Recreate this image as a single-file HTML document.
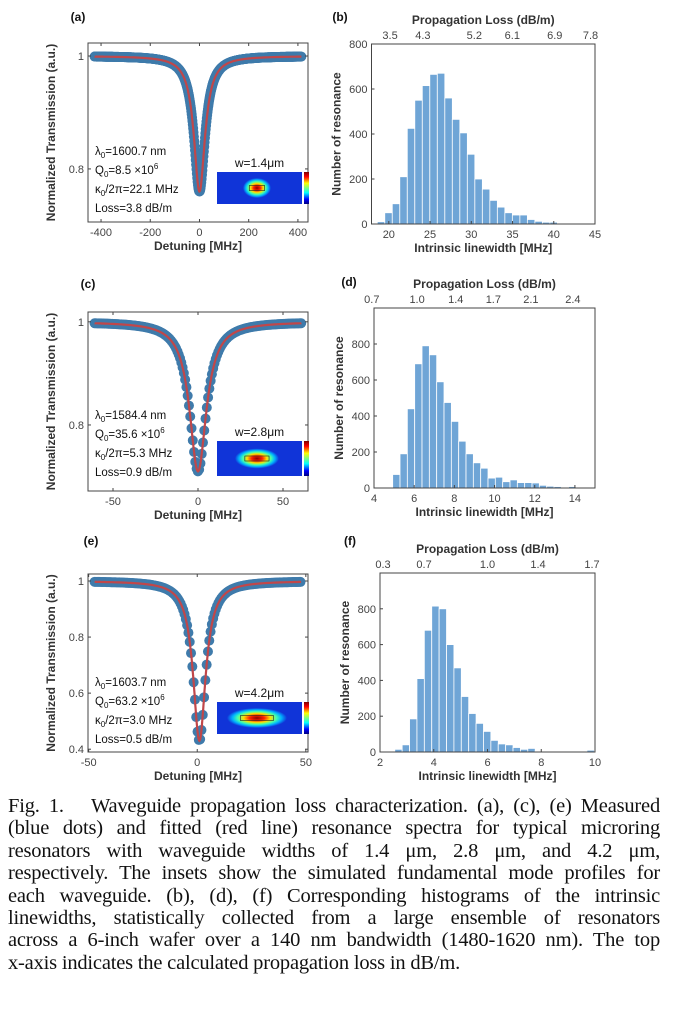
<!DOCTYPE html>
<html><head><meta charset="utf-8">
<style>
html,body{margin:0;padding:0;background:#fff;}
body{width:673px;height:1015px;overflow:hidden;position:relative;}
svg{position:absolute;left:0;top:0;}
#caption{position:absolute;left:8px;top:795px;width:652px;font-family:"Liberation Serif",serif;font-size:20.5px;line-height:22.4px;color:#111;letter-spacing:-0.2px;}
#caption div{text-align:justify;text-align-last:justify;white-space:nowrap;}
#caption div.last{text-align-last:left;}
</style></head>
<body>
<svg id="fig" width="673" height="795" xmlns="http://www.w3.org/2000/svg">
<defs>
<linearGradient id="jet" x1="0" y1="1" x2="0" y2="0">
<stop offset="0" stop-color="#00007f"/><stop offset="0.15" stop-color="#0000ff"/><stop offset="0.35" stop-color="#00ffff"/><stop offset="0.5" stop-color="#7fff7f"/><stop offset="0.65" stop-color="#ffff00"/><stop offset="0.85" stop-color="#ff0000"/><stop offset="1" stop-color="#7f0000"/>
</linearGradient>
<radialGradient id="mode">
<stop offset="0" stop-color="#8a0000"/><stop offset="0.25" stop-color="#ff2000"/><stop offset="0.45" stop-color="#ffe000"/><stop offset="0.65" stop-color="#40ffb0"/><stop offset="0.82" stop-color="#00b0ff"/><stop offset="1" stop-color="#1034d8"/>
</radialGradient>
</defs>
</svg>
<div id="caption">
<div>Fig. 1.&nbsp;&nbsp; Waveguide propagation loss characterization. (a), (c), (e) Measured</div>
<div>(blue dots) and fitted (red line) resonance spectra for typical microring</div>
<div>resonators with waveguide widths of 1.4 μm, 2.8 μm, and 4.2 μm,</div>
<div>respectively. The insets show the simulated fundamental mode profiles for</div>
<div>each waveguide. (b), (d), (f) Corresponding histograms of the intrinsic</div>
<div>linewidths, statistically collected from a large ensemble of resonators</div>
<div>across a 6-inch wafer over a 140 nm bandwidth (1480-1620 nm). The top</div>
<div class="last">x-axis indicates the calculated propagation loss in dB/m.</div>
</div>
<script>
// ---- Histogram data ----
const histB_counts = [10,50,90,210,425,550,615,665,670,560,465,405,310,200,155,105,75,50,40,40,20,12,8,8,3];
const histB_binStart = 18.6, histB_binWidth = 0.91;
const histB_xTicks = [20,25,30,35,40,45];
const histB_yTicks = [0,200,400,600,800];
const histB_topLabels = ["3.5","4.3","5.2","6.1","6.9","7.8"];
const histB_topFrac = [0.083,0.23,0.46,0.63,0.82,0.98];

const histD_counts = [75,190,440,690,790,740,590,475,370,260,190,140,110,55,60,35,45,30,30,28,15,10,8,5,8,5,5];
const histD_binStart = 4.93, histD_binWidth = 0.365;
const histD_xTicks = [4,6,8,10,12,14];
const histD_yTicks = [0,200,400,600,800];
const histD_topLabels = ["0.7","1.0","1.4","1.7","2.1","2.4"];
const histD_topFrac = [-0.01,0.195,0.37,0.54,0.71,0.9];

const histF_counts = [5,0,15,40,185,410,680,815,800,600,470,310,215,160,115,65,45,40,25,15,20,5,5,5,5,3,3,2,10];
const histF_binStart = 2.0, histF_binWidth = 0.275;
const histF_xTicks = [2,4,6,8,10];
const histF_yTicks = [0,200,400,600,800];
const histF_topLabels = ["0.3","0.7","1.0","1.4","1.7"];
const histF_topFrac = [0.014,0.205,0.5,0.735,0.986];

// ---- Resonance fit parameters (center MHz, depth, FWHM MHz) ----
const resA_fit = [0, 0.24, 55];
const resC_fit = [0, 0.29, 12];
const resE_fit = [1, 0.57, 7];
const resA_xTicks = [-400,-200,0,200,400];
const resA_yTicks = [0.8,1];
const resC_xTicks = [-50,0,50];
const resC_yTicks = [0.8,1];
const resE_xTicks = [-50,0,50];
const resE_yTicks = [0.4,0.6,0.8,1];

const NS="http://www.w3.org/2000/svg";
const svg=document.getElementById('fig');
function el(tag,attrs,parent,text){const e=document.createElementNS(NS,tag);for(const k in attrs)e.setAttribute(k,attrs[k]);if(text!==undefined)e.textContent=text;(parent||svg).appendChild(e);return e;}
const F='"Liberation Sans", Arial, sans-serif';

function label(x,y,t,size,bold,anchor,name,fill){
  const e=el('text',{x:x,y:y,'font-family':F,'font-size':size,'font-weight':bold?'bold':'normal','text-anchor':anchor||'middle',fill:fill||'#333'},svg,t);
  
  
  return e;
}

function hist(id,box,xlim,ylim,counts,b0,bw,xt,yt,topL,topF,letter,lx,ly){
  const g=el('g',{});
  
  
  const [x0,y0,x1,y1]=box;
  const sx=v=>x0+(v-xlim[0])/(xlim[1]-xlim[0])*(x1-x0);
  const sy=v=>y1-(v-ylim[0])/(ylim[1]-ylim[0])*(y1-y0);
  counts.forEach((c,i)=>{
    const a=sx(b0+i*bw), b=sx(b0+(i+1)*bw);
    const r=el('rect',{x:a,y:sy(c),width:Math.max(0,b-a),height:Math.max(0,y1-sy(c)),fill:'#6fa5d6',stroke:'#fff','stroke-width':0.8},g);
    
    
  });
  const fr=el('rect',{x:x0,y:y0,width:x1-x0,height:y1-y0,fill:'none',stroke:'#444','stroke-width':1},g);
  
  
  xt.forEach(v=>{const X=sx(v);el('line',{x1:X,y1:y1,x2:X,y2:y1-3,stroke:'#444'},g);
    label(X,y1+14,String(v),11,false,'middle','x-tick-'+id,'#444');});
  yt.forEach(v=>{const Y=sy(v);el('line',{x1:x0,y1:Y,x2:x0+3,y2:Y,stroke:'#444'},g);
    label(x0-4,Y+4,String(v),11,false,'end','y-tick-'+id,'#444');});
  topL.forEach((t,i)=>{const X=x0+topF[i]*(x1-x0);label(X,y0-5,t,11,false,'middle','top-tick-'+id,'#444');});
  label((x0+x1)/2,y1+28,'Intrinsic linewidth [MHz]',12,true,'middle','x-axis-title-'+id);
  label((x0+x1)/2,y0-20,'Propagation Loss (dB/m)',12,true,'middle','top-axis-title-'+id);
  const yl=label(0,0,'Number of resonance',12,true,'middle','y-axis-title-'+id);
  yl.setAttribute('transform','translate('+(x0-31)+','+((y0+y1)/2)+') rotate(-90)');
  label(lx,ly,'('+letter+')',12,true,'middle','panel-label-'+letter,'#111');
}

function res(id,box,xlim,ylim,fit,step,xt,yt,letter,lx,ly,ann,w,inset){
  const g=el('g',{});
  
  
  const [x0,y0,x1,y1]=box;
  const sx=v=>x0+(v-xlim[0])/(xlim[1]-xlim[0])*(x1-x0);
  const sy=v=>y1-(v-ylim[0])/(ylim[1]-ylim[0])*(y1-y0);
  const model=x=>1-fit[1]/(1+Math.pow(2*(x-fit[0])/fit[2],2));
  const xa=xlim[0]+(xlim[1]-xlim[0])*0.03, xb=xlim[1]-(xlim[1]-xlim[0])*0.03;
  for(let x=xa;x<=xb;x+=step){
    const c=el('circle',{cx:sx(x),cy:sy(model(x)),r:5,fill:'#3f7bab'},g);
    
    
  }
  let d='';
  for(let x=xa;x<=xb;x+=(xb-xa)/600){d+=(d?'L':'M')+sx(x).toFixed(1)+','+sy(model(x)).toFixed(1);}
  const p=el('path',{d:d,fill:'none',stroke:'#c0474a','stroke-width':2.2},g);
  
  
  const fr=el('rect',{x:x0,y:y0,width:x1-x0,height:y1-y0,fill:'none',stroke:'#444','stroke-width':1},g);
  
  
  xt.forEach(v=>{const X=sx(v);el('line',{x1:X,y1:y1,x2:X,y2:y1-3,stroke:'#444'},g);el('line',{x1:X,y1:y0,x2:X,y2:y0+3,stroke:'#444'},g);
    label(X,y1+14,String(v),11,false,'middle','x-tick-'+id,'#444');});
  yt.forEach(v=>{const Y=sy(v);el('line',{x1:x0,y1:Y,x2:x0+3,y2:Y,stroke:'#444'},g);el('line',{x1:x1,y1:Y,x2:x1-3,y2:Y,stroke:'#444'},g);
    label(x0-4,Y+4,String(v),11,false,'end','y-tick-'+id,'#444');});
  label((x0+x1)/2,y1+28,'Detuning [MHz]',12,true,'middle','x-axis-title-'+id);
  const yl=label(0,0,'Normalized Transmission (a.u.)',12,true,'middle','y-axis-title-'+id);
  yl.setAttribute('transform','translate('+(x0-33)+','+((y0+y1)/2)+') rotate(-90)');
  label(lx,ly,'('+letter+')',12,true,'middle','panel-label-'+letter,'#111');
  const t=el('text',{x:x0+7,y:ann[0],'font-family':F,'font-size':11.5,fill:'#111'},svg);
  
  
  t.innerHTML='<tspan>λ</tspan><tspan dy="3" font-size="8">0</tspan><tspan dy="-3">='+ann[1]+'</tspan>'+
   '<tspan x="'+(x0+7)+'" dy="19">Q</tspan><tspan dy="3" font-size="8">0</tspan><tspan dy="-3">='+ann[2]+' ×10</tspan><tspan dy="-5" font-size="8">6</tspan>'+
   '<tspan x="'+(x0+7)+'" dy="24">κ</tspan><tspan dy="3" font-size="8">0</tspan><tspan dy="-3">/2π='+ann[3]+'</tspan>'+
   '<tspan x="'+(x0+7)+'" dy="19">'+ann[4]+'</tspan>';
  const ig=el('g',{});
  
  
  const [ix,iy,iw,ih]=inset;
  el('rect',{x:ix,y:iy,width:iw,height:ih,fill:'#1034d8'},ig);
  el('ellipse',{cx:ix+iw*0.47,cy:iy+ih/2,rx:w,ry:10,fill:'url(#mode)'},ig);
  el('rect',{x:ix+iw*0.47-w*0.55,y:iy+ih/2-2.5,width:w*1.1,height:5,fill:'none',stroke:'#222','stroke-width':0.6},ig);
  el('rect',{x:ix+iw+2,y:iy,width:5,height:ih,fill:'url(#jet)'},ig);
  label(ix+iw/2,iy-5,'w='+ann[5],12,false,'middle','inset-title-'+id,'#111');
}

hist('b',[371.5,44,595,224],[17.9,45],[0,800],histB_counts,histB_binStart,histB_binWidth,histB_xTicks,histB_yTicks,histB_topLabels,histB_topFrac,'b',340,21);
hist('d',[374,308,595,488],[4,15],[0,1000],histD_counts,histD_binStart,histD_binWidth,histD_xTicks,histD_yTicks,histD_topLabels,histD_topFrac,'d',349,286);
hist('f',[380,573,595,752],[2,10],[0,1000],histF_counts,histF_binStart,histF_binWidth,histF_xTicks,histF_yTicks,histF_topLabels,histF_topFrac,'f',350,545);

res('a',[88,43,308,222],[-453,441],[0.706,1.023],resA_fit,1.5,resA_xTicks,resA_yTicks,'a',78,21,[155,'1600.7 nm','8.5','22.1 MHz','Loss=3.8 dB/m','1.4μm'],14,[217,172,85,32]);
res('c',[88,312,308,491],[-64.7,64.7],[0.672,1.019],resC_fit,0.75,resC_xTicks,resC_yTicks,'c',88,288,[419,'1584.4 nm','35.6','5.3 MHz','Loss=0.9 dB/m','2.8μm'],22,[217,441,85,35]);
res('e',[88,574,308,752],[-50.3,51],[0.39,1.025],resE_fit,0.6,resE_xTicks,resE_yTicks,'e',91,545,[686,'1603.7 nm','63.2','3.0 MHz','Loss=0.5 dB/m','4.2μm'],30,[217,702,85,32]);
</script>
</body></html>
